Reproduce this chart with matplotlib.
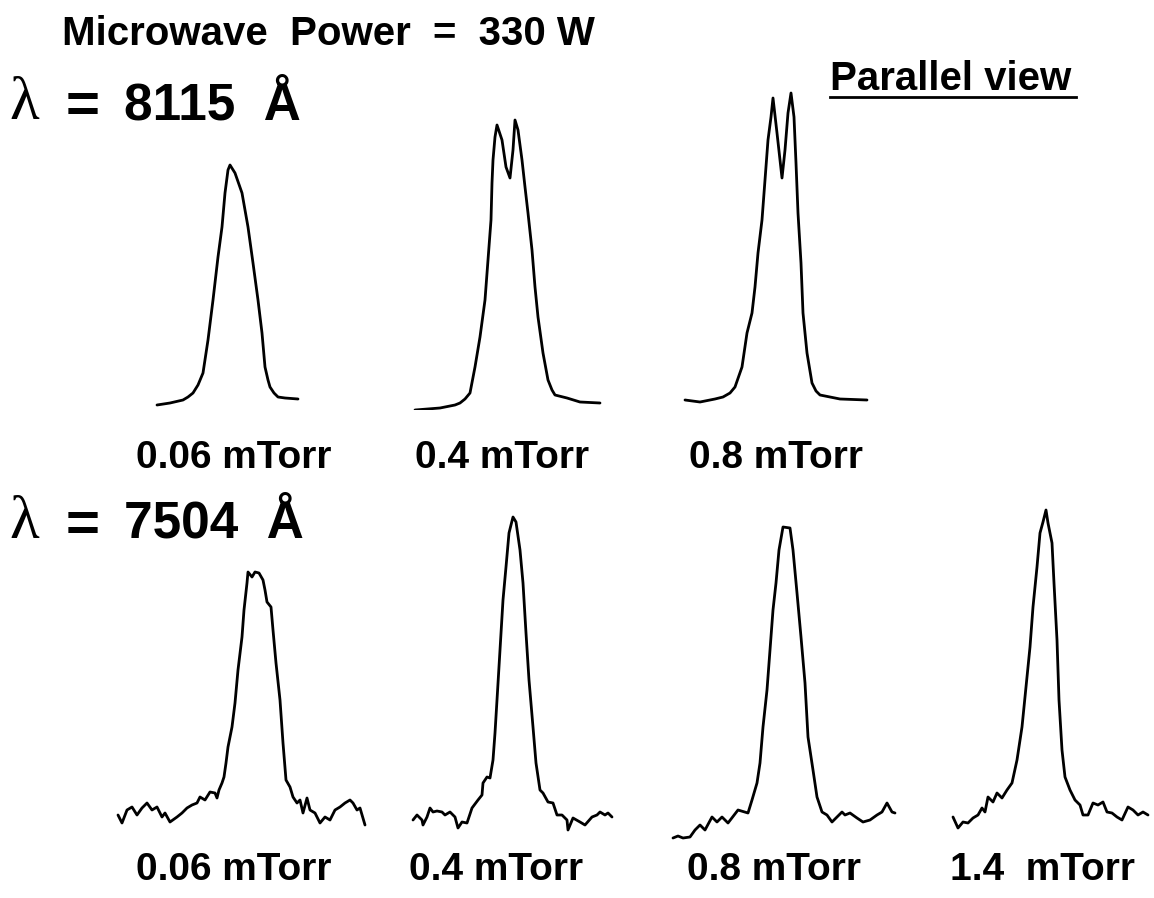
import matplotlib
matplotlib.use("Agg")
import matplotlib.pyplot as plt

W, H = 1154, 898

# --- line profiles (channel, intensity) ---
# lambda = 8115 A
ch_8115_006 = [7, 20, 33, 38, 43, 48, 53, 58, 63, 68, 72, 75, 78, 80, 85, 92, 98, 103, 108, 112, 115,
               118, 120, 124, 128, 135, 148]
int_8115_006 = [5, 7, 10, 13, 17, 25, 37, 70, 110, 153, 183, 217, 240, 245, 237, 217, 183, 147, 110, 77, 43,
                30, 23, 17, 13, 12, 11]

ch_8115_04 = [5, 30, 45, 50, 55, 60, 65, 70, 75, 78, 81, 82, 83, 85, 87, 92, 96, 100, 103, 105, 108, 112, 115,
              118, 122, 125, 128, 133, 138, 142, 145, 157, 170, 190]
int_8115_04 = [0, 2, 5, 7, 11, 17, 43, 73, 110, 150, 190, 227, 250, 273, 285, 270, 243, 232, 260, 290, 280, 250, 223,
               197, 160, 123, 93, 57, 30, 20, 15, 12, 8, 7]

ch_8115_08 = [5, 20, 35, 43, 50, 55, 62, 67, 72, 75, 78, 82, 85, 88, 91, 93, 97, 102, 105, 108, 111, 114, 116,
              118, 121, 123, 127, 132, 136, 140, 160, 187]
int_8115_08 = [10, 8, 11, 13, 17, 23, 43, 77, 97, 123, 157, 190, 230, 270, 293, 312, 277, 232, 260, 297, 317, 293, 247,
               197, 147, 97, 57, 27, 19, 15, 11, 10]

# lambda = 7504 A
ch_7504_006 = [8, 12, 17, 22, 27, 32, 37, 42, 47, 52, 55, 60, 67, 72, 77, 82, 87, 90, 95, 100,
               105, 107, 109, 112, 114, 116, 118, 122, 125, 128, 132, 134, 137, 138, 142, 145, 149, 153, 155, 157,
               161, 163, 166, 170, 173, 176, 180, 183, 187, 190, 193, 197, 200, 205, 210, 215, 220, 225, 230, 235,
               240, 243, 247, 250, 255]
int_7504_006 = [25, 17, 30, 33, 25, 32, 37, 30, 33, 23, 27, 18, 23, 27, 32, 35, 37, 43, 40, 48,
                47, 42, 50, 57, 63, 77, 93, 113, 137, 170, 203, 230, 257, 268, 263, 268, 267, 260, 250, 238,
                233, 210, 177, 140, 97, 60, 53, 43, 37, 40, 27, 42, 30, 27, 17, 23, 20, 30, 33, 37,
                40, 37, 30, 32, 15]

ch_7504_04 = [8, 12, 17, 18, 22, 25, 28, 32, 37, 40, 45, 50, 53, 57, 62, 67, 73, 77, 78, 82,
              85, 88, 90, 92, 95, 98, 101, 104, 108, 111, 115, 118, 121, 124, 128, 131, 135, 138, 143, 148,
              152, 157, 162, 163, 168, 175, 180, 187, 192, 195, 200, 203, 207]
int_7504_04 = [20, 25, 20, 15, 23, 32, 28, 29, 28, 25, 28, 23, 12, 18, 17, 32, 40, 45, 57, 63,
               62, 80, 107, 140, 190, 240, 273, 307, 323, 318, 290, 257, 207, 160, 113, 77, 50, 47, 38, 37,
               25, 25, 20, 10, 22, 18, 15, 23, 25, 28, 25, 27, 23]

ch_7504_08 = [8, 13, 18, 25, 30, 35, 40, 47, 52, 57, 63, 73, 83, 87, 92, 95, 98, 102, 105, 108,
              111, 114, 118, 125, 128, 132, 136, 140, 143, 148, 152, 157, 162, 167, 172, 177, 180, 185, 192, 198,
              205, 212, 217, 222, 227, 230]
int_7504_08 = [2, 4, 2, 3, 10, 15, 10, 23, 18, 23, 17, 30, 27, 40, 57, 77, 113, 150, 190, 230,
               257, 290, 313, 312, 290, 247, 203, 157, 103, 70, 43, 28, 25, 18, 23, 28, 25, 27, 22, 18,
               20, 25, 28, 37, 28, 27]

ch_7504_14 = [8, 13, 18, 23, 28, 33, 37, 40, 43, 48, 52, 57, 62, 67, 72, 77, 81, 85, 88, 92,
              95, 98, 101, 103, 107, 109, 112, 114, 117, 120, 125, 130, 135, 138, 143, 148, 153, 158, 162, 167,
              172, 177, 183, 188, 193, 198, 203]
int_7504_14 = [23, 12, 18, 17, 22, 25, 32, 28, 43, 38, 47, 42, 50, 57, 80, 113, 153, 193, 233, 273,
               307, 318, 330, 317, 297, 257, 200, 140, 90, 63, 50, 40, 35, 25, 25, 37, 35, 38, 28, 27,
               23, 20, 33, 30, 25, 28, 25]

labels_top = ["0.06 mTorr", "0.4 mTorr", "0.8 mTorr"]
labels_bot = ["0.06 mTorr", "0.4 mTorr", "0.8 mTorr", "1.4  mTorr"]

FONT = "Liberation Sans"


def panel(fig, box, ch, inten):
    # box = (left px, top px, width px, height px)
    x0, y0, w, h = box
    ax = fig.add_axes([x0 / W, 1 - (y0 + h) / H, w / W, h / H])
    ax.plot(ch, inten, color="black", lw=2.0, solid_joinstyle="round", solid_capstyle="round")
    ax.set_xlim(0, w)
    ax.set_ylim(0, h)
    ax.axis("off")
    return ax


def txt(fig, x, y, s, **kw):
    fig.text(x / W, 1 - y / H, s, **kw)


fig = plt.figure(figsize=(W / 100, H / 100), dpi=100)
fig.patch.set_facecolor("white")

top = [(150, ch_8115_006, int_8115_006), (410, ch_8115_04, int_8115_04), (680, ch_8115_08, int_8115_08)]
for x0, c, i in top:
    panel(fig, (x0, 80, 220, 330), c, i)

bot = [(110, ch_7504_006, int_7504_006), (405, ch_7504_04, int_7504_04),
       (665, ch_7504_08, int_7504_08), (945, ch_7504_14, int_7504_14)]
for x0, c, i in bot:
    panel(fig, (x0, 490, 260, 350), c, i)

# titles
txt(fig, 62, 45, "Microwave  Power  =  330 W", fontsize=29, fontweight="bold",
    family=FONT, va="baseline", ha="left")
txt(fig, 830, 90, "Parallel view", fontsize=29, fontweight="bold", family=FONT,
    va="baseline", ha="left")
fig.add_artist(plt.Line2D([830 / W, 1076 / W], [1 - 97 / H, 1 - 97 / H], color="black", lw=2))

for base, wl in [(119, "8115"), (538, "7504")]:
    txt(fig, 9, base, "\u03bb", fontsize=44, family="Liberation Serif", va="baseline", ha="left")
    txt(fig, 83, base + 4, "=", fontsize=42, fontweight="bold", family=FONT, va="baseline", ha="center")
    txt(fig, 124, base, wl + "  \u00c5", fontsize=37, fontweight="bold", family=FONT,
        va="baseline", ha="left")

for xc, s in zip([234, 502, 776], labels_top):
    txt(fig, xc, 468, s, fontsize=28, fontweight="bold", family=FONT, va="baseline", ha="center")
for xc, s in zip([234, 496, 774, 1043], labels_bot):
    txt(fig, xc, 880, s, fontsize=28, fontweight="bold", family=FONT, va="baseline", ha="center")

fig.savefig("out.png", dpi=100)
